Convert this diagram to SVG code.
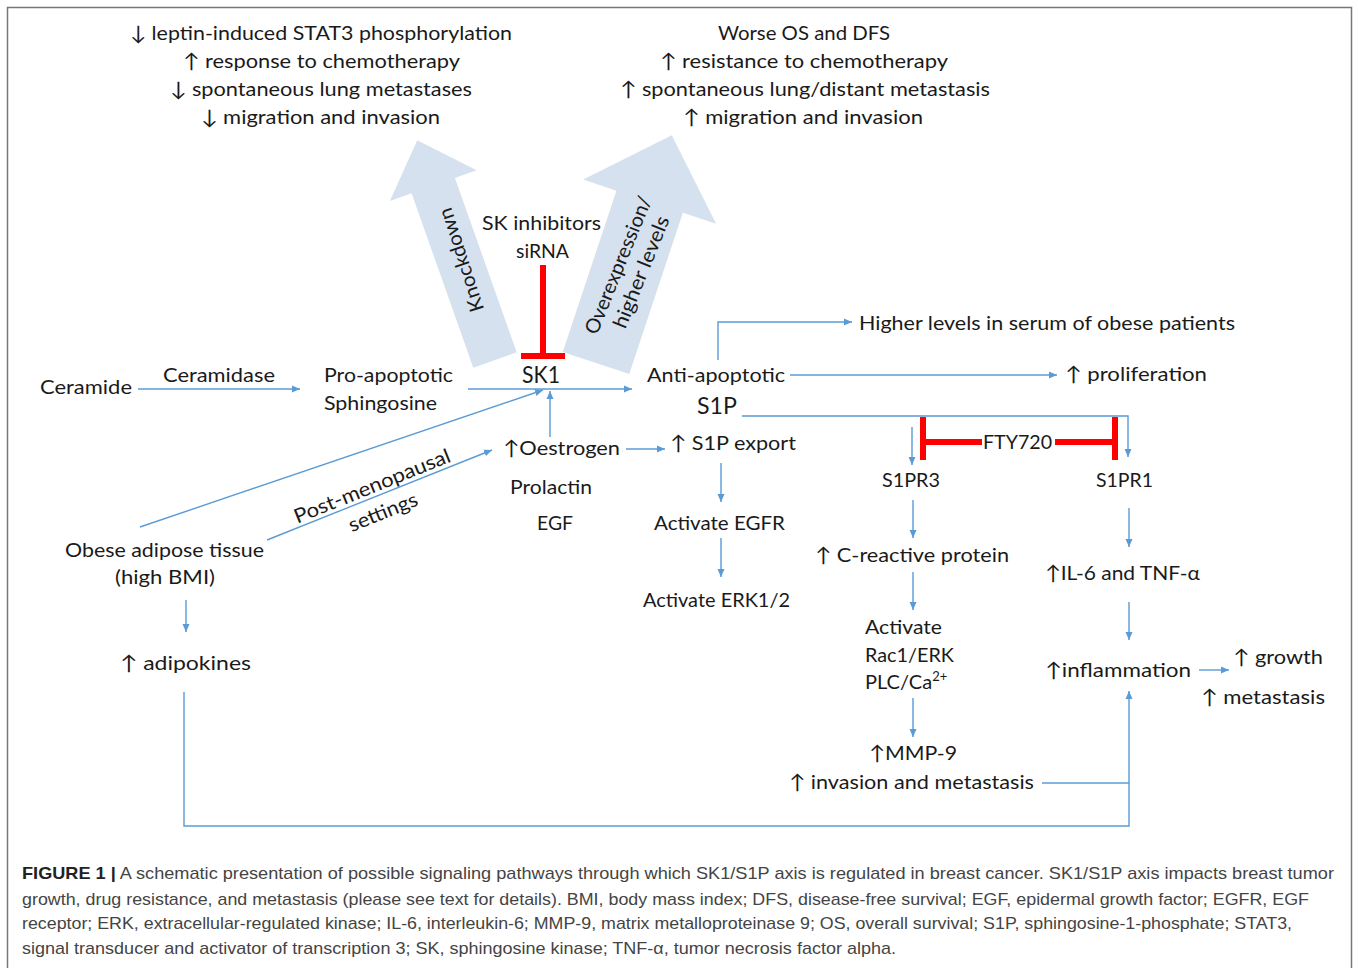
<svg xmlns="http://www.w3.org/2000/svg" width="1358" height="968" viewBox="0 0 1358 968">
<style>
.t{font-family:Lato,"Open Sans","DejaVu Sans",sans-serif;font-size:20px;fill:#1a1a1a}
.big{font-size:23px}
.c{text-anchor:middle}
.ln{fill:none;stroke:#5B9BD5;stroke-width:1.4}
.ar{marker-end:url(#ah)}
.inh{fill:none;stroke:#FF0000;stroke-width:6}
.bigarrow{fill:#D5E1EE}
.cap{font-family:"Liberation Sans",Arial,sans-serif;font-size:17px;fill:#444}
.capb{font-weight:bold;fill:#222}
</style>
<defs>
<marker id="ah" markerUnits="userSpaceOnUse" markerWidth="9" markerHeight="8" refX="8" refY="4" orient="auto">
<path d="M0,0.5 L8,4 L0,7.5 Z" fill="#5B9BD5"/>
</marker>
</defs>
<rect width="1358" height="968" fill="#fff"/>
<rect x="7.5" y="7.5" width="1344" height="1000" fill="none" stroke="#777" stroke-width="1.5"/>

<g id="arrow-knockdown">
<path class="bigarrow" transform="translate(495,360) rotate(-19.5)" d="M-23,0 V-185 H-46 L0,-233 L46,-185 H23 V0 Z"/>
<text class="t c" transform="translate(461,260) rotate(-108)" y="7" textLength="108" lengthAdjust="spacingAndGlyphs">Knockdown</text>
</g>
<g id="arrow-overexpression">
<path class="bigarrow" transform="translate(596,363) rotate(18.4)" d="M-35,0 V-170 H-70 L0,-240 L70,-170 H35 V0 Z"/>
<text class="t c" transform="translate(618,265) rotate(-68)" y="7" textLength="147" lengthAdjust="spacingAndGlyphs">Overexpression/</text>
<text class="t c" transform="translate(641,272) rotate(-68)" y="7" textLength="119" lengthAdjust="spacingAndGlyphs">higher levels</text>
</g>

<g id="connectors">
<path class="ln ar" d="M138,389 H300"/>
<path class="ln ar" d="M468,389 H632"/>
<path class="ln ar" d="M140,527 L543,390"/>
<path class="ln ar" d="M267,540 L492,450"/>
<path class="ln ar" d="M550,437 V391"/>
<path class="ln ar" d="M626,449 H665"/>
<path class="ln ar" d="M721,463 V502"/>
<path class="ln ar" d="M721,538 V577"/>
<path class="ln ar" d="M718,360 V322 H852"/>
<path class="ln ar" d="M790,375 H1057"/>
<path class="ln ar" d="M742,416 H1128 V457"/>
<path class="ln ar" d="M912,427 V465"/>
<path class="ln ar" d="M913,500 V538"/>
<path class="ln ar" d="M913,572 V610"/>
<path class="ln ar" d="M913,698 V737"/>
<path class="ln ar" d="M1129,508 V547"/>
<path class="ln ar" d="M1129,602 V640"/>
<path class="ln ar" d="M1199,670 H1229"/>
<path class="ln" d="M1042,783 H1129"/>
<path class="ln ar" d="M184,692 V826 H1129 V691"/>
<path class="ln ar" d="M186,600 V632"/>
<path class="inh" d="M543,265 V356 M521,356 H565"/>
<path class="inh" d="M923,417 V460 M1115,417 V460"/>
<path class="inh" d="M923,442 H982 M1055,442 H1115" stroke-width="5"/>
</g>

<g id="knockdown-effects">
<text class="t" x="130" y="40" textLength="382" lengthAdjust="spacingAndGlyphs">↓ leptin-induced STAT3 phosphorylation</text>
<text class="t" x="183" y="68" textLength="277" lengthAdjust="spacingAndGlyphs">↑ response to chemotherapy</text>
<text class="t" x="170" y="96" textLength="302" lengthAdjust="spacingAndGlyphs">↓ spontaneous lung metastases</text>
<text class="t" x="201" y="124" textLength="239" lengthAdjust="spacingAndGlyphs">↓ migration and invasion</text>
</g>
<g id="overexpression-effects">
<text class="t" x="718" y="40" textLength="172" lengthAdjust="spacingAndGlyphs">Worse OS and DFS</text>
<text class="t" x="660" y="68" textLength="288" lengthAdjust="spacingAndGlyphs">↑ resistance to chemotherapy</text>
<text class="t" x="620" y="96" textLength="370" lengthAdjust="spacingAndGlyphs">↑ spontaneous lung/distant metastasis</text>
<text class="t" x="683" y="124" textLength="240" lengthAdjust="spacingAndGlyphs">↑ migration and invasion</text>
</g>

<g id="ceramide"><text class="t" x="40" y="394" textLength="92" lengthAdjust="spacingAndGlyphs">Ceramide</text></g>
<g id="ceramidase"><text class="t" x="163" y="382" textLength="112" lengthAdjust="spacingAndGlyphs">Ceramidase</text></g>
<g id="sphingosine">
<text class="t" x="324" y="382" textLength="129" lengthAdjust="spacingAndGlyphs">Pro-apoptotic</text>
<text class="t" x="324" y="410" textLength="113" lengthAdjust="spacingAndGlyphs">Sphingosine</text>
</g>
<g id="sk1"><text class="t big" x="522" y="383" textLength="38" lengthAdjust="spacingAndGlyphs">SK1</text></g>
<g id="sk-inhibitors">
<text class="t" x="482" y="230" textLength="119" lengthAdjust="spacingAndGlyphs">SK inhibitors</text>
<text class="t" x="516" y="258" textLength="53" lengthAdjust="spacingAndGlyphs">siRNA</text>
</g>
<g id="s1p">
<text class="t" x="647" y="382" textLength="138" lengthAdjust="spacingAndGlyphs">Anti-apoptotic</text>
<text class="t big" x="697" y="414" textLength="40" lengthAdjust="spacingAndGlyphs">S1P</text>
</g>
<g id="serum"><text class="t" x="859" y="330" textLength="376" lengthAdjust="spacingAndGlyphs">Higher levels in serum of obese patients</text></g>
<g id="proliferation"><text class="t" x="1065" y="381" textLength="142" lengthAdjust="spacingAndGlyphs">↑ proliferation</text></g>
<g id="oestrogen">
<text class="t" x="503" y="455" textLength="117" lengthAdjust="spacingAndGlyphs">↑Oestrogen</text>
<text class="t" x="510" y="494" textLength="82" lengthAdjust="spacingAndGlyphs">Prolactin</text>
<text class="t" x="537" y="530" textLength="36" lengthAdjust="spacingAndGlyphs">EGF</text>
</g>
<g id="s1p-export"><text class="t" x="670" y="450" textLength="126" lengthAdjust="spacingAndGlyphs">↑ S1P export</text></g>
<g id="egfr"><text class="t" x="654" y="530" textLength="131" lengthAdjust="spacingAndGlyphs">Activate EGFR</text></g>
<g id="erk"><text class="t" x="643" y="607" textLength="147" lengthAdjust="spacingAndGlyphs">Activate ERK1/2</text></g>
<g id="obese">
<text class="t" x="65" y="557" textLength="199" lengthAdjust="spacingAndGlyphs">Obese adipose tissue</text>
<text class="t" x="115" y="584" textLength="100" lengthAdjust="spacingAndGlyphs">(high BMI)</text>
</g>
<g id="postmenopausal">
<text class="t c" transform="translate(372,486) rotate(-22)" y="7" textLength="167" lengthAdjust="spacingAndGlyphs">Post-menopausal</text>
<text class="t c" transform="translate(383,512) rotate(-22)" y="7" textLength="73" lengthAdjust="spacingAndGlyphs">settings</text>
</g>
<g id="adipokines"><text class="t" x="120" y="670" textLength="131" lengthAdjust="spacingAndGlyphs">↑ adipokines</text></g>
<g id="fty720"><text class="t" x="983" y="449" textLength="69" lengthAdjust="spacingAndGlyphs">FTY720</text></g>
<g id="s1pr3"><text class="t" x="882" y="487" textLength="58" lengthAdjust="spacingAndGlyphs">S1PR3</text></g>
<g id="s1pr1"><text class="t" x="1096" y="487" textLength="57" lengthAdjust="spacingAndGlyphs">S1PR1</text></g>
<g id="crp"><text class="t" x="815" y="562" textLength="194" lengthAdjust="spacingAndGlyphs">↑ C-reactive protein</text></g>
<g id="rac1">
<text class="t" x="865" y="634" textLength="77" lengthAdjust="spacingAndGlyphs">Activate</text>
<text class="t" x="865" y="662" textLength="89" lengthAdjust="spacingAndGlyphs">Rac1/ERK</text>
<text class="t" x="865" y="689">PLC/Ca<tspan font-size="13" dy="-8">2+</tspan></text>
</g>
<g id="mmp9">
<text class="t" x="869" y="760" textLength="88" lengthAdjust="spacingAndGlyphs">↑MMP-9</text>
<text class="t" x="789" y="789" textLength="245" lengthAdjust="spacingAndGlyphs">↑ invasion and metastasis</text>
</g>
<g id="il6"><text class="t" x="1045" y="580" textLength="155" lengthAdjust="spacingAndGlyphs">↑IL-6 and TNF-α</text></g>
<g id="inflammation"><text class="t" x="1045" y="677" textLength="146" lengthAdjust="spacingAndGlyphs">↑inflammation</text></g>
<g id="growth">
<text class="t" x="1233" y="664" textLength="90" lengthAdjust="spacingAndGlyphs">↑ growth</text>
<text class="t" x="1201" y="704" textLength="124" lengthAdjust="spacingAndGlyphs">↑ metastasis</text>
</g>

<g id="caption">
<text class="cap" x="22" y="879" textLength="1312" lengthAdjust="spacingAndGlyphs"><tspan class="capb">FIGURE 1 |</tspan> A schematic presentation of possible signaling pathways through which SK1/S1P axis is regulated in breast cancer. SK1/S1P axis impacts breast tumor</text>
<text class="cap" x="22" y="905" textLength="1287" lengthAdjust="spacingAndGlyphs">growth, drug resistance, and metastasis (please see text for details). BMI, body mass index; DFS, disease-free survival; EGF, epidermal growth factor; EGFR, EGF</text>
<text class="cap" x="22" y="929" textLength="1270" lengthAdjust="spacingAndGlyphs">receptor; ERK, extracellular-regulated kinase; IL-6, interleukin-6; MMP-9, matrix metalloproteinase 9; OS, overall survival; S1P, sphingosine-1-phosphate; STAT3,</text>
<text class="cap" x="22" y="954" textLength="874" lengthAdjust="spacingAndGlyphs">signal transducer and activator of transcription 3; SK, sphingosine kinase; TNF-α, tumor necrosis factor alpha.</text>
</g>
</svg>
